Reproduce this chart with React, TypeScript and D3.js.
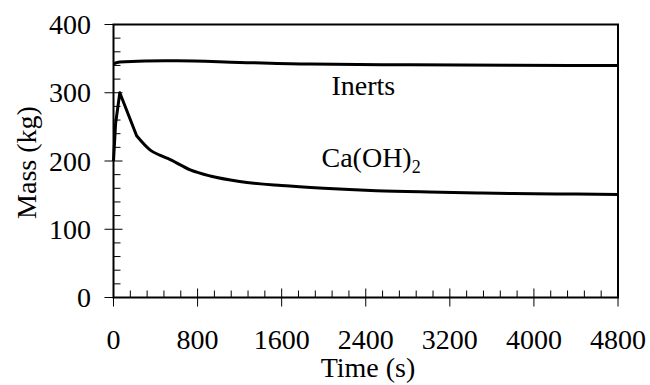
import React from "react";
import * as d3 from "d3";

// Time (s) and mass (kg) of each component
const inertsTime = [0, 60, 300, 600, 1200, 1870, 2820, 3800, 4800];
const inertsMass = [342.5, 345, 346.5, 346.8, 344.5, 342, 341, 340.3, 340];

const caohTime = [0, 20, 60, 220, 350, 440, 540, 730, 920, 1200, 1600, 2000, 2500, 3000, 3500, 4000, 4400, 4800];
const caohMass = [200, 255, 300, 237, 216, 208.5, 202, 187, 178, 170, 164, 160, 156.5, 154.5, 153, 152, 151.5, 151];

const xTicks = [0, 800, 1600, 2400, 3200, 4000, 4800];
const yTicks = [0, 100, 200, 300, 400];

const W = 650;
const H = 385;
const margin = { left: 113.5, right: 32, top: 24.5, bottom: 87.5 };
const FONT = '"Liberation Serif", "Times New Roman", Times, Tinos, "Nimbus Roman", FreeSerif, serif';
const FS = 28;

export default function App() {
  const x = d3.scaleLinear().domain([0, 4800]).range([margin.left, W - margin.right]);
  const y = d3.scaleLinear().domain([0, 400]).range([H - margin.bottom, margin.top]);

  const smooth = d3
    .line<[number, number]>()
    .x((d) => x(d[0]))
    .y((d) => y(d[1]))
    .curve(d3.curveMonotoneX);
  const straight = d3
    .line<[number, number]>()
    .x((d) => x(d[0]))
    .y((d) => y(d[1]));

  const inerts = inertsTime.map((t, i) => [t, inertsMass[i]] as [number, number]);
  const caoh = caohTime.map((t, i) => [t, caohMass[i]] as [number, number]);
  // sharp rise and first drop, then a smooth decay
  const kink = 3;
  const caohPath = (straight(caoh.slice(0, kink + 1)) ?? "") + (smooth(caoh.slice(kink)) ?? "").replace(/^M/, "L");

  const xMinor = d3.range(0, 4800 + 1, 160).filter((v) => v % 800 !== 0);
  const yMinor = d3.range(0, 400 + 1, 20).filter((v) => v % 100 !== 0);

  const x0 = x(0);
  const x1 = x(4800);
  const y0 = y(0);
  const y1 = y(400);

  return (
    <svg width={W} height={H} style={{ position: "absolute", left: 0, top: 0, background: "#fff" }}>
      <style>{`text { font-family: ${FONT}; font-size: ${FS}px; }`}</style>
      {/* curves */}
      <path d={smooth(inerts) ?? ""} fill="none" stroke="#000" strokeWidth={3} strokeLinejoin="round" />
      <path d={caohPath} fill="none" stroke="#000" strokeWidth={3} strokeLinejoin="round" />

      {/* minor ticks */}
      {xMinor.map((v) => (
        <line key={"xm" + v} x1={x(v)} x2={x(v)} y1={y0} y2={y0 - 7} stroke="#000" strokeWidth={1} />
      ))}
      {yMinor.map((v) => (
        <line key={"ym" + v} x1={x0} x2={x0 + 7} y1={y(v)} y2={y(v)} stroke="#000" strokeWidth={1} />
      ))}

      {/* major ticks */}
      {xTicks.map((v) => (
        <line key={"xM" + v} x1={x(v)} x2={x(v)} y1={y0 - 9} y2={y0 + 9} stroke="#000" strokeWidth={1} />
      ))}
      {yTicks.map((v) => (
        <line key={"yM" + v} x1={x0 - 9} x2={x0 + 9} y1={y(v)} y2={y(v)} stroke="#000" strokeWidth={1} />
      ))}

      {/* frame */}
      <rect x={x0} y={y1} width={x1 - x0} height={y0 - y1} fill="none" stroke="#000" strokeWidth={2} />

      {/* tick labels */}
      {xTicks.map((v) => (
        <text key={"xl" + v} x={x(v)} y={349} textAnchor="middle">
          {v}
        </text>
      ))}
      {yTicks.map((v) => (
        <text key={"yl" + v} x={91} y={y(v) + 9.5} textAnchor="end">
          {v}
        </text>
      ))}

      {/* axis titles */}
      <text x={368} y={377} textAnchor="middle">
        Time (s)
      </text>
      <text transform="translate(35.5,162.5) rotate(-90)" textAnchor="middle">
        Mass (kg)
      </text>

      {/* series labels */}
      <text x={331.5} y={95}>
        Inerts
      </text>
      <text x={321.5} y={167}>
        Ca(OH)
        <tspan style={{ fontSize: 18 }} dy={6}>
          2
        </tspan>
      </text>
    </svg>
  );
}
